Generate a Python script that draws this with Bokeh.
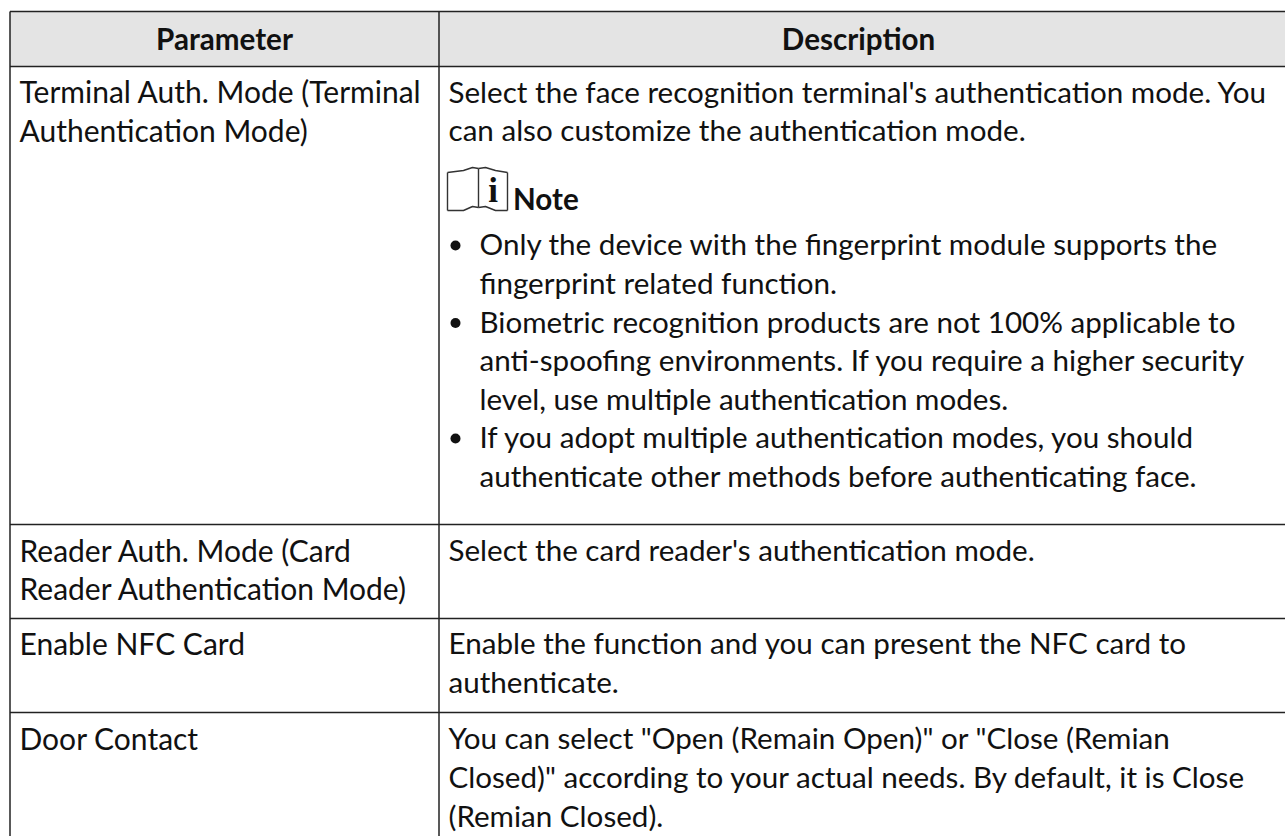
from bokeh.plotting import figure
from bokeh.models import Range1d
from bokeh.core.properties import value
from bokeh.embed import file_html
from bokeh.resources import INLINE

headers = ["Parameter", "Description"]
param_lines = ["Terminal Auth. Mode (Terminal", "Authentication Mode)",
               "Reader Auth. Mode (Card", "Reader Authentication Mode)",
               "Enable NFC Card", "Door Contact"]
desc_lines = ["Select the face recognition terminal's authentication mode. You",
              "can also customize the authentication mode.",
              "Select the card reader's authentication mode.",
              "Enable the function and you can present the NFC card to",
              "authenticate.",
              "You can select \"Open (Remain Open)\" or \"Close (Remian",
              "Closed)\" according to your actual needs. By default, it is Close",
              "(Remian Closed)."]
note_label = "Note"
bullet_lines = ["Only the device with the fingerprint module supports the",
                "fingerprint related function.",
                "Biometric recognition products are not 100% applicable to",
                "anti-spoofing environments. If you require a higher security",
                "level, use multiple authentication modes.",
                "If you adopt multiple authentication modes, you should",
                "authenticate other methods before authenticating face."]
bullet_starts = [True, False, True, False, False, True, False]

# layout, in reference pixels
L, R, T, B = 0, 1285, 0, 836
FONT = "Lato"
SIZE = "29.6px"
PARAM_SIZE = "30px"
DY = -11          # Bokeh draws this text below the requested baseline
COL = 438.5
TOP = 11
HEAD = 66
ROWS = [524, 618, 712]
COLOR = "#111111"
param_y = [101.5, 140, 560, 598, 653, 748]
desc_y = [101.5, 140, 560, 653, 692, 748, 787, 826]
bullet_y = [254, 293, 331.5, 370, 409, 447, 486]

p = figure(width=R - L, height=B - T, x_range=Range1d(L, R), y_range=Range1d(B, T),
           toolbar_location=None, output_backend="svg", min_border=0,
           outline_line_color=None, background_fill_color="white")
p.axis.visible = False
p.grid.visible = False

p.quad(left=[9.5], right=[R], top=[TOP], bottom=[HEAD], fill_color="#e4e4e4", line_color=None)
p.segment(x0=[9.5] * 5, x1=[R] * 5, y0=[TOP, HEAD] + ROWS, y1=[TOP, HEAD] + ROWS,
          line_color="#222222", line_width=1.5)
p.segment(x0=[9.5, COL], x1=[9.5, COL], y0=[TOP, TOP], y1=[B, B], line_color="#222222", line_width=1.5)

def txt(xs, ys, texts, bold=False, align="left", size=SIZE):
    p.text(x=xs, y=[y + DY for y in ys], text=texts, text_font=value(FONT), text_font_size=value(size),
           text_color=COLOR, text_baseline="alphabetic", text_align=align,
           text_font_style="bold" if bold else "normal")

txt([224, 858], [49, 49], headers, bold=True, align="center")
txt([19] * len(param_lines), param_y, param_lines, size=PARAM_SIZE)
txt([448] * len(desc_lines), desc_y, desc_lines)
txt([479] * len(bullet_lines), bullet_y, bullet_lines)
p.scatter(x=[455] * sum(bullet_starts), y=[y - 9 for y, s in zip(bullet_y, bullet_starts) if s],
          size=10, marker="circle", fill_color=COLOR, line_color=None)
txt([512.5], [209], [note_label], bold=True)

# book icon
lx = [447, 463, 472, 478]
rx = [478, 485, 495, 507]
top_l = [172, 170, 167, 168]
bot_l = [210, 210, 206, 207]
top_r = [168, 167, 170, 172]
bot_r = [207, 206, 210, 210]
for xs, ys in ((lx, top_l), (lx, bot_l), (rx, top_r), (rx, bot_r)):
    p.line(xs, ys, line_color="#333333", line_width=1.4)
p.segment(x0=[447, 478, 507], x1=[447, 478, 507], y0=[172, 168, 172], y1=[210, 207, 210],
          line_color="#333333", line_width=1.4)
p.text(x=[492.5], y=[190], text=["i"], text_font=value("Liberation Serif"), text_font_size=value("35px"),
       text_font_style="bold", text_color="#111111", text_align="center", text_baseline="alphabetic")

open("out.html", "w").write(file_html(p, INLINE))
